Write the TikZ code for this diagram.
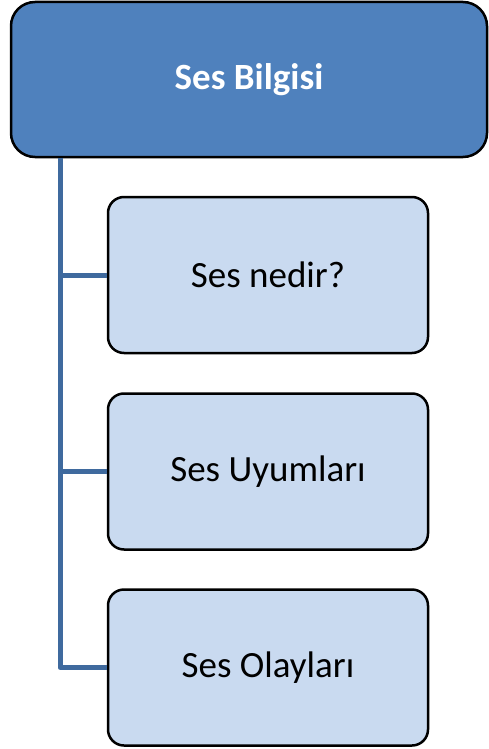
\documentclass[tikz,border=0pt]{standalone}
\usepackage{fontspec}
\setmainfont{Carlito}
\definecolor{topfill}{HTML}{4F81BD}
\definecolor{childfill}{HTML}{C9DAF0}
\definecolor{linkc}{HTML}{3F6A9E}
\begin{document}
\begin{tikzpicture}[x=1pt,y=-1pt,
  topbox/.style={draw=black,line width=2.5pt,fill=topfill,rounded corners=24pt,minimum width=476pt,minimum height=155pt,inner sep=0pt,text=white,font=\fontsize{37}{40}\selectfont\bfseries},
  childbox/.style={draw=black,line width=2.5pt,fill=childfill,rounded corners=16pt,minimum width=320pt,minimum height=156pt,inner sep=0pt,text=black,font=\fontsize{37}{40}\selectfont},
  link/.style={draw=linkc,line width=5pt}]
\useasboundingbox (0,0) rectangle (488,749);
\node[topbox] (top) at (249,79.5) {Ses Bilgisi};
\node[childbox] (c1) at (268,275) {Ses nedir?};
\node[childbox] (c2) at (268,471.5) {Ses Uyumları};
\node[childbox] (c3) at (268,667.5) {Ses Olayları};
\coordinate (v) at (60,0);
\draw[link] (top.south -| v) |- (c1.west);
\draw[link] (top.south -| v) |- (c2.west);
\draw[link,line join=round] (top.south -| v) |- (c3.west);
\end{tikzpicture}
\end{document}
